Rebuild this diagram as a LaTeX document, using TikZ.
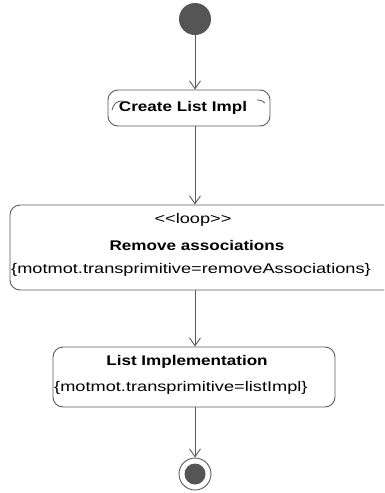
\documentclass[tikz,border=0pt]{standalone}
\usepackage{fontspec}
\setmainfont{Liberation Sans}[FakeStretch=1.3]
\newfontfamily\namefont{Liberation Sans}[FakeStretch=1.22]
\usepackage{tikz}
\usetikzlibrary{arrows.meta}
\definecolor{Black}{HTML}{000000}
\definecolor{White}{HTML}{FFFFFF}
\definecolor{Line}{HTML}{5A5A5A}
\definecolor{Dot}{HTML}{555555}
\tikzset{
  every picture/.style={font={\fontsize{14}{17}\selectfont}, >={Straight Barb[length=8pt,width=11pt]}},
  action/.style={draw=Line, line width=0.9pt, rounded corners=10pt, inner sep=0pt},
  flow/.style={->, draw=Line, line width=0.9pt},
  txt/.style={inner sep=0pt, text=Black},
  titletxt/.style={txt, font={\fontsize{14}{17}\namefont\bfseries}}}

\begin{document}
\begin{tikzpicture}[x=1pt, y=-1pt]
    \useasboundingbox (0,0) rectangle (384,493);
    \clip (0,0) rectangle (384,493);

    % start and end
    \node[circle, fill=Dot, minimum size=32pt, inner sep=0pt] (start) at (195,19) {};
    \node[circle, draw=Line, line width=0.9pt, minimum size=32pt, inner sep=0pt] (final) at (195,474) {};
    \fill[Dot] (final) circle[radius=10.5pt];

    % create list impl
    \node[action, minimum width=162pt, minimum height=36pt] (create) at (189,108) {};
    \node[titletxt] (createText) at (183,108) {Create List Impl};
    \draw[Line, line width=0.8pt] (112,110) .. controls (114,103) and (117,101) .. (123,101);
    \draw[Line, line width=0.8pt] (257,100) .. controls (261,100) and (263,101) .. (265,103);

    % remove associations
    \node[action, minimum width=384pt, minimum height=85pt] (loop) at (202,247.5) {};
    \node[txt] (loopStereo) at (193,220) {<{}<loop>{}>};
    \node[titletxt] (loopName) at (197,245) {Remove associations};
    \node[txt, anchor=west] (loopTag) at (11,270) {\{motmot.transprimitive=removeAssociations\}};

    % list implementation
    \node[action, minimum width=282pt, minimum height=60pt] (impl) at (194,377) {};
    \node[titletxt] (implName) at (187,362) {List Implementation};
    \node[txt, anchor=west] (implTag) at (54,388) {\{motmot.transprimitive=listImpl\}};

    \draw[flow] (start) -- (start |- create.north);
    \draw[flow] (create.south -| start) -- (loop.north -| start);
    \draw[flow] (loop.south -| start) -- (impl.north -| start);
    \draw[flow] (impl.south -| start) -- (final);
  \end{tikzpicture}
\end{document}
